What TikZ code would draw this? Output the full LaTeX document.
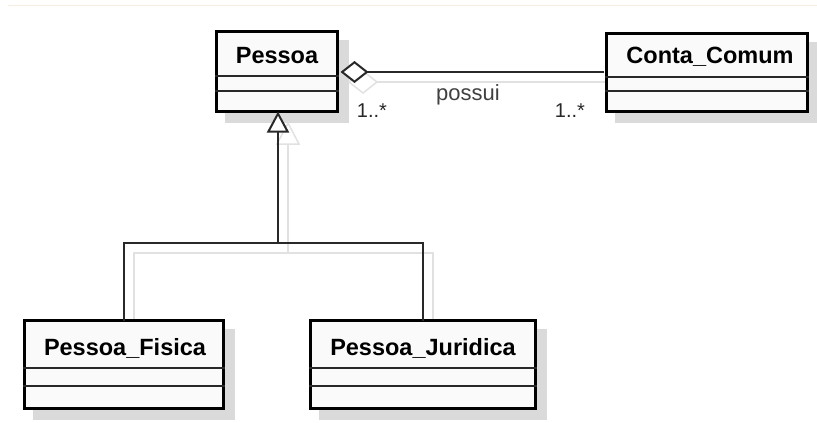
\documentclass[tikz,border=0pt]{standalone}
\usepackage{fontspec}
\setmainfont{Liberation Sans}
\usetikzlibrary{arrows.meta,calc}

\definecolor{boxfill}{RGB}{250,250,250}
\definecolor{shade}{RGB}{218,218,218}
\definecolor{linegray}{RGB}{40,40,40}

\tikzset{
  classbox/.style={draw=black, line width=3pt, fill=boxfill, rectangle, inner sep=0pt},
  shadowbox/.style={fill=shade, draw=none, rectangle, inner sep=0pt},
  classname/.style={anchor=base, font=\bfseries\fontsize{23.5}{25}\selectfont},
  mult/.style={anchor=base, text=linegray, font=\fontsize{20}{22}\selectfont},
  rolename/.style={anchor=base, text=black!75, font=\fontsize{22}{24}\selectfont},
  compline/.style={line width=1.5pt, draw=linegray},
  assoc/.style={line width=2pt, draw=linegray},
  shadowline/.style={line width=1.5pt, draw=shade!80}
}

\begin{document}
\begin{tikzpicture}[x=1pt, y=-1pt]

\useasboundingbox (0,0) rectangle (817,423);

% Faint line along the top
\draw[line width=1pt, draw={rgb,255:red,246;green,236;blue,224}] (8,5) -- (817,5);

% Shadows of the classes
\node[shadowbox, minimum width=124pt, minimum height=83pt] (pessoaS) at (287,81.5) {};
\node[shadowbox, minimum width=204pt, minimum height=81pt] (contaS) at (717,82.5) {};
\node[shadowbox, minimum width=202pt, minimum height=91pt] (fisicaS) at (134,374.5) {};
\node[shadowbox, minimum width=228pt, minimum height=91pt] (juridicaS) at (433,374.5) {};

% Shadows of the connectors
\begin{scope}[shift={(10,10)}]
  \draw[shadowline] (339,72) -- ++(14,-11) -- ++(14,11) -- ++(-14,11) -- cycle;
  \draw[shadowline] (367,72) -- (606,72);
  \draw[shadowline] (278,113) -- ++(11,21) -- ++(-22,0) -- cycle;
  \draw[shadowline] (278,134) -- (278,243);
  \draw[shadowline] (124,320) |- (423,243) -- (423,320);
\end{scope}

% The classes
\node[classbox, minimum width=121pt, minimum height=80pt] (pessoa) at (277,71.5) {};
\node[classbox, minimum width=201pt, minimum height=78pt] (conta) at (707,72.5) {};
\node[classbox, minimum width=199pt, minimum height=88pt] (fisica) at (124,364.5) {};
\node[classbox, minimum width=225pt, minimum height=88pt] (juridica) at (423,364.5) {};

% Class names
\node[classname] (pessoaT) at (277,63) {Pessoa};
\node[classname] (contaT) at (710,63) {Conta\_Comum};
\node[classname] (fisicaT) at (125,355) {Pessoa\_Fisica};
\node[classname] (juridicaT) at (423,355) {Pessoa\_Juridica};

% Compartments
\draw[compline] (pessoa.west |- 0,76) -- (pessoa.east |- 0,76);
\draw[compline] (pessoa.west |- 0,91) -- (pessoa.east |- 0,91);
\draw[compline] (conta.west |- 0,77) -- (conta.east |- 0,77);
\draw[compline] (conta.west |- 0,91) -- (conta.east |- 0,91);
\draw[compline] (fisica.west |- 0,368) -- (fisica.east |- 0,368);
\draw[compline] (fisica.west |- 0,386) -- (fisica.east |- 0,386);
\draw[compline] (juridica.west |- 0,368) -- (juridica.east |- 0,368);
\draw[compline] (juridica.west |- 0,386) -- (juridica.east |- 0,386);

% Aggregation Pessoa -- Conta_Comum
\draw[assoc, {Diamond[open, fill=white, length=28pt, width=22pt]}-]
  ([xshift=1.5pt]pessoa.east |- 0,72) -- ([xshift=-1.5pt]conta.west |- 0,72);
\node[rolename] (possui) at (468,100) {possui};
\node[mult] (multA) at (372,117) {1..*};
\node[mult] (multB) at (570,117) {1..*};

% Generalization to Pessoa
\coordinate (bus) at (278,243);
\draw[assoc, -{Triangle[open, fill=white, length=21pt, width=22pt]}]
  (bus) -- ([yshift=1.5pt]pessoa.south -| bus);
\draw[assoc] ([yshift=-1.5pt]fisica.north) |- (bus);
\draw[assoc] ([yshift=-1.5pt]juridica.north) |- (bus);

\end{tikzpicture}
\end{document}
